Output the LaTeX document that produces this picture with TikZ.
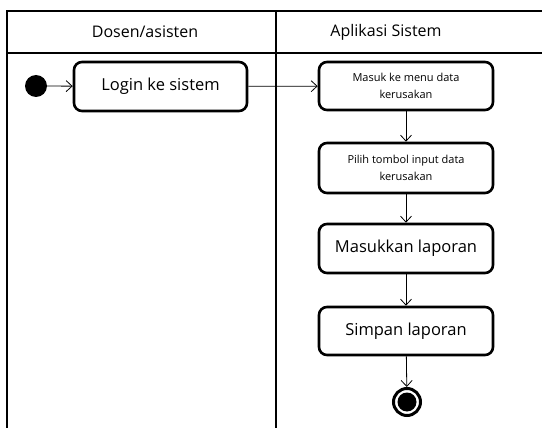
\documentclass[tikz,border=0pt]{standalone}
\usepackage{fontspec}
\setmainfont{Open Sans}
\usetikzlibrary{arrows.meta}
\begin{document}
\begin{tikzpicture}[x=1pt,y=-1pt,
  lane/.style={line width=1.3pt},
  action/.style={draw, line width=2.6pt, rounded corners=8pt, inner sep=0pt,
    minimum width=173pt, align=center, font=\fontsize{16.5}{19}\selectfont},
  smallaction/.style={action, font=\fontsize{11}{17}\selectfont},
  flow/.style={line width=0.8pt, -{Straight Barb[length=6pt,width=11pt,line width=0.8pt]}},
  header/.style={font=\fontsize{16}{19}\selectfont, inner sep=0pt}]
  \useasboundingbox (0,0) rectangle (542,428);

  % swimlane frame
  \draw[lane] (542,11) -- (7,11) -- (7,428);
  \draw[lane] (7,53) -- (542,53);
  \draw[lane] (276,11) -- (276,428);
  \node[header] (laneA) at (145,32) {Dosen/asisten};
  \node[header] (laneB) at (386,32) {Aplikasi Sistem};

  % start node
  \node[circle, fill=black, minimum size=22pt, inner sep=0pt] (start) at (36,86) {};

  % actions
  \node[action, minimum height=49pt] (login) at (160.5,86.5) {Login ke sistem};
  \node[smallaction, minimum width=174pt, minimum height=48pt] (menu) at (406,86) {Masuk ke menu data\\kerusakan};
  \node[smallaction, minimum width=174pt, minimum height=50pt] (tombol) at (406,168) {Pilih tombol input data\\kerusakan};
  \node[action, minimum width=174pt, minimum height=49pt] (input) at (406,248.5) {Masukkan laporan};
  \node[action, minimum width=174pt, minimum height=48pt] (simpan) at (406,331) {Simpan laporan};

  % end node
  \node[circle, draw, line width=3pt, minimum size=27pt, inner sep=0pt] (end) at (407,402) {};
  \fill (end.center) circle (9.5pt);

  % control flow
  \draw[flow] (start) -- (login);
  \draw[flow] (login) -- (menu);
  \draw[flow] (menu) -- (tombol);
  \draw[flow] (tombol) -- (input);
  \draw[flow] (input) -- (simpan);
  \draw[flow] (simpan) -- (end);
\end{tikzpicture}
\end{document}
